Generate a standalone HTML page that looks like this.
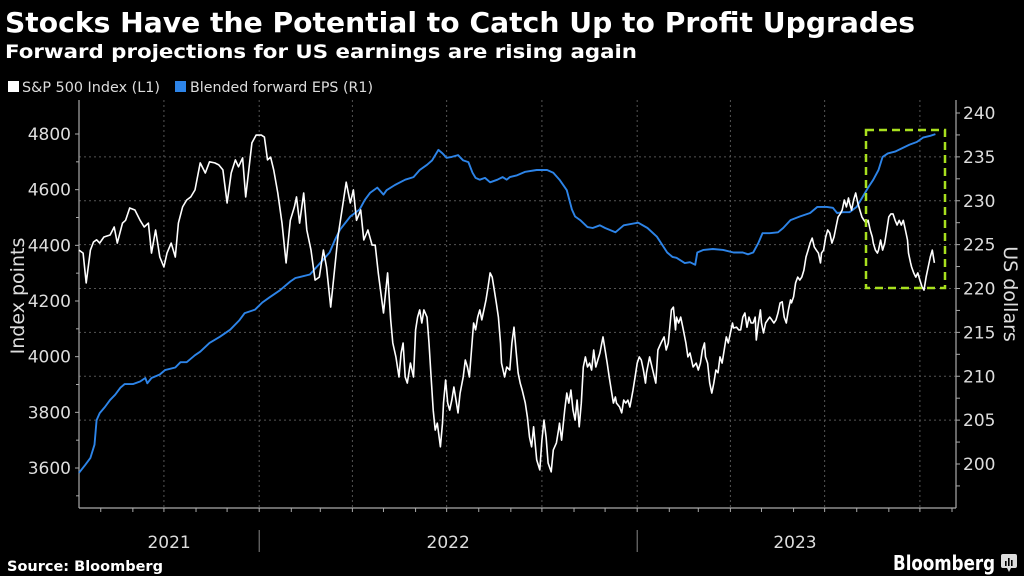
<!DOCTYPE html>
<html><head><meta charset="utf-8"><style>
html,body{margin:0;padding:0;background:#000;}
svg{display:block;}
text{font-family:"DejaVu Sans","Liberation Sans",sans-serif;}
</style></head><body>
<svg id="chart" width="1024" height="576" viewBox="0 0 1024 576">
<rect width="1024" height="576" fill="#000"/>
<text x="5" y="32" font-size="28" font-weight="bold" fill="#fff" textLength="910" lengthAdjust="spacingAndGlyphs">Stocks Have the Potential to Catch Up to Profit Upgrades</text>
<text x="5" y="58" font-size="19" font-weight="bold" fill="#fff" textLength="632" lengthAdjust="spacingAndGlyphs">Forward projections for US earnings are rising again</text>
<g>
<g><rect x="8" y="81" width="11" height="11" fill="#fff"/><text x="22" y="92" font-size="14.5" fill="#ddd" textLength="138" lengthAdjust="spacingAndGlyphs">S&amp;P 500 Index (L1)</text></g>
<g><rect x="175" y="81" width="11" height="11" fill="#2d84e8"/><text x="190" y="92" font-size="14.5" fill="#ddd" textLength="183" lengthAdjust="spacingAndGlyphs">Blended forward EPS (R1)</text></g>
</g>
<g id="grid"></g>
<g id="axes"></g>
<g id="series"></g>
<rect x="866" y="130" width="79" height="158" fill="none" stroke="#a8e01e" stroke-width="2.5" stroke-dasharray="8,5"/>
<text x="7" y="571" font-size="14.5" font-weight="bold" fill="#fff">Source: Bloomberg</text>
<g>
<text x="893" y="570" font-size="20" font-weight="bold" fill="#fff" textLength="102" lengthAdjust="spacingAndGlyphs">Bloomberg</text>
<rect x="1001" y="554" width="16" height="14" rx="2" fill="#ddd"/>
<path d="M1007 568 L1009 572 L1011 568 Z" fill="#ddd"/>
<rect x="1005" y="561" width="1.6" height="5" fill="#000"/><rect x="1008" y="558" width="1.6" height="8" fill="#000"/><rect x="1011" y="560" width="1.6" height="6" fill="#000"/>
</g>
</svg>
<script>
const spxDays=[0,4,7,11,14,17,20,24,30,34,37,42,45,49,54,59,63,67,70,74,78,82,85,89,93,96,100,104,108,112,117,122,126,131,135,139,143,147,151,154,158,161,167,171,176,179,182,185,188,192,196,200,204,208,210,213,217,220,224,228,232,236,239,243,246,250,254,258,262,265,268,272,275,279,283,286,
289,294,298,301,303,306,309,311,313,315,317,320,323,325,327,329,331,333,336,338,340,342,344,346,349,351,352,354,356,358,360,362,364,366,368,371,373,375,377,379,381,383,385,387,389,391,393,395,397,399,401,403,405,407,408,411,413,416,418,420,422,424,426,428,431,433,435,437,439,442,445,447,449,451,453,456,458,461,463,464,466,469,471,473,475,477,479,481,483,485,487,489,491,493,495,497,499,501,503,506,508,510,512,514,516,518,519,522,524,526,528,530,532,535,537,539,541,543,545,547,548,
551,554,557,559,562,565,567,569,572,574,576,577,579,581,583,586,588,590,593,596,598,600,602,604,605,607,609,611,613,615,617,619,621,623,625,627,629,631,632,635,637,639,641,643,645,647,649,651,653,654,656,658,659,661,663,665,667,669,671,673,675,677,679,681,683,685,687,688,690,692,694,696,698,700,702,704,706,708,710,712,714,716,717,719,721,723,725,727,729,731,733,735,737,739,741,743,744,746,748,750,752,754,756,758,760,762,764,766,767,769,771,772,774,776,778,780,782,784,786,788,790,792,794,796,798,800,801,803,804,806,808,810,812,814,816,818,820,822,824,826];
const spxValues=[4383,4372,4265,4383,4412,4420,4408,4430,4437,4466,4408,4480,4490,4534,4527,4490,4466,4480,4372,4455,4358,4322,4372,4408,4358,4480,4538,4563,4574,4599,4696,4660,4700,4696,4689,4671,4552,4660,4707,4682,4714,4574,4768,4796,4796,4789,4707,4717,4671,4588,4480,4337,4490,4538,4574,4480,4588,4455,4383,4275,4286,4383,4322,4178,4286,4430,4527,4627,4552,4599,4490,4527,4419,4455,4401,4401,
4300,4157,4301,4132,4049,3999,3927,4013,4049,3927,3905,3977,3927,4096,4142,4168,4121,4168,4142,4049,3927,3808,3736,3761,3676,3761,3833,3916,3833,3808,3844,3891,3844,3798,3869,3927,3988,3963,3927,4024,4121,4096,4142,4168,4132,4168,4204,4251,4301,4286,4239,4193,4142,4049,3977,3927,3963,3952,4049,4106,4024,3942,3905,3880,3833,3783,3711,3676,3748,3629,3593,3700,3772,3711,3618,3586,3665,3690,3736,3761,3700,3808,3869,3833,3880,3808,3772,3844,3748,3833,3963,3999,3963,3977,3952,4024,3963,3988,4013,4071,4024,3977,3927,3880,3833,3855,3833,3819,3798,3844,3833,3844,3819,3880,3927,3977,3999,3988,3952,3905,3942,
3999,3952,3905,4024,4049,4071,4024,4049,4168,4178,4096,4142,4121,4142,4106,4049,3999,4013,3963,3977,3952,3977,4024,4049,3999,3977,3905,3869,3905,3952,3942,3999,3977,4024,4071,4049,4085,4121,4103,4106,4096,4096,4142,4157,4106,4142,4121,4121,4142,4060,4121,4168,4121,4085,4121,4132,4142,4132,4121,4132,4157,4193,4197,4142,4121,4168,4204,4193,4215,4265,4286,4275,4286,4311,4358,4383,4408,4426,4394,4383,4372,4337,4372,4383,4430,4455,4444,4408,4430,4466,4502,4513,4527,4563,4538,4570,4552,4527,4563,4588,4552,4527,4502,4490,4480,4490,4455,4430,4408,4383,4372,4383,4419,4383,4408,4455,4502,4513,4513,4490,4473,4490,4473,4490,4455,4419,4372,4337,4322,4301,4286,4301,4275,4251,4239,4286,4322,4358,4383,4337];
const epsDays=[0,6,11,15,17,20,25,30,35,40,44,52,59,64,66,70,78,83,93,98,104,112,117,126,136,146,155,160,170,177,184,194,204,209,213,223,242,247,252,262,271,276,281,288,294,297,305,315,323,329,336,341,347,351,355,360,366,371,376,380,383,387,392,397,404,409,413,416,423,431,442,452,458,464,471,476,479,484,491,496,503,508,518,526,540,549,558,568,573,577,585,590,595,597,603,612,622,632,641,646,651,656,660,667,675,680,687,696,706,713,722,728,732,738,744,751,756,762,767,772,776,781,788,795,802,809,815,822,827];
const epsValues=[199.0,199.9,200.7,202.2,205.0,205.8,206.5,207.3,207.9,208.7,209.1,209.1,209.4,209.8,209.2,209.8,210.2,210.7,211.0,211.6,211.6,212.4,212.8,213.8,214.5,215.3,216.4,217.2,217.6,218.4,219.0,219.8,220.8,221.2,221.3,221.6,224.1,225.5,226.7,228.2,229.0,230.1,230.9,231.5,230.7,231.2,231.8,232.4,232.7,233.5,234.1,234.6,235.8,235.4,234.9,235.0,235.2,234.6,234.4,233.2,232.6,232.4,232.6,232.1,232.4,232.7,232.4,232.7,232.9,233.3,233.5,233.5,233.2,232.4,231.2,229.0,228.2,227.8,227.0,226.9,227.2,226.9,226.4,227.2,227.5,226.9,225.9,224.1,223.6,223.5,222.9,223.0,222.7,224.1,224.4,224.5,224.4,224.1,224.1,223.9,224.1,225.2,226.3,226.3,226.4,226.9,227.8,228.2,228.6,229.3,229.3,229.2,228.6,228.7,228.7,229.3,230.3,231.5,232.4,233.5,235.0,235.4,235.6,236.0,236.4,236.7,237.2,237.4,237.6];
const leftTicks=[3600,3800,4000,4200,4400,4600,4800];
const rightTicks=[200,205,210,215,220,225,230,235,240];
const yearLabels=["2021","2022","2023"];

const NS="http://www.w3.org/2000/svg";
const X0=79,X1=956,YB=508,YT=100;
const start=new Date(2021,6,11);
const pxPerDay=1.0356;
const xDay=d=>X0+d*pxPerDay;
const xDate=dt=>xDay((dt-start)/86400000);
const yL=v=>134+(4800-v)*(334/1200);
const yR=v=>113+(240-v)*(351/40);
function mk(tag,attrs,parent){const e=document.createElementNS(NS,tag);for(const k in attrs)e.setAttribute(k,attrs[k]);parent.appendChild(e);return e;}
const grid=document.getElementById('grid'),axes=document.getElementById('axes'),series=document.getElementById('series');

// horizontal gridlines at right-axis ticks
for(const v of rightTicks){if(v===200||v===240)continue;
 const l=mk('line',{x1:X0,x2:X1,y1:yR(v),y2:yR(v),stroke:'#555','stroke-width':1,'stroke-dasharray':'2,3'},grid);
 
 }
// quarterly vertical gridlines + monthly ticks
for(let m=7;m<=34;m++){
 const dt=new Date(2021,m,1);const x=xDate(dt);if(x<=X0+2||x>=X1)continue;
 if(m%3===0){const g=mk('line',{x1:x,x2:x,y1:YT,y2:YB,stroke:'#555','stroke-width':1,'stroke-dasharray':'2,3'},grid);
  
  }
 const t=mk('line',{x1:x,x2:x,y1:YB,y2:YB+4,stroke:'#aaa','stroke-width':1},axes);
 
 
}
// axis lines
const la=mk('line',{x1:X0,x2:X0,y1:YT,y2:YB,stroke:'#aaa','stroke-width':1.2},axes);


const ra=mk('line',{x1:X1,x2:X1,y1:YT,y2:YB,stroke:'#aaa','stroke-width':1.2},axes);


const ba=mk('line',{x1:X0,x2:X1,y1:YB,y2:YB,stroke:'#aaa','stroke-width':1.2},axes);


// left ticks
for(let v=3500;v<=4800;v+=100){const y=yL(v);if(y>YB||y<YT)continue;
 mk('line',{x1:X0-(v%200===0?4:3),x2:X0,y1:y,y2:y,stroke:'#aaa','stroke-width':1},axes);}
for(const v of leftTicks){const t=mk('text',{x:X0-8,y:yL(v)+6,'font-size':17,fill:'#ddd','text-anchor':'end'},axes);t.textContent=v;
 
 }
// right ticks
for(let v=197.5;v<=240;v+=2.5){const y=yR(v);if(y>YB||y<YT-15)continue;
 mk('line',{x1:X1,x2:X1+4,y1:y,y2:y,stroke:'#aaa','stroke-width':1},axes);}
for(const v of rightTicks){const t=mk('text',{x:X1+7,y:yR(v)+6,'font-size':17,fill:'#ddd'},axes);t.textContent=v;
 
 }
// axis titles
const lt=mk('text',{x:0,y:0,'font-size':19,fill:'#ddd','text-anchor':'middle',transform:'translate(24,296) rotate(-90)'},axes);lt.textContent='Index points';


const rt=mk('text',{x:0,y:0,'font-size':19,fill:'#ddd','text-anchor':'middle',transform:'translate(1004,294) rotate(90)'},axes);rt.textContent='US dollars';


// years
const yb=[xDate(new Date(2022,0,1)),xDate(new Date(2023,0,1))];
for(const x of yb){const s=mk('line',{x1:x,x2:x,y1:530,y2:552,stroke:'#888','stroke-width':1},axes);
 
 }
const ranges=[[X0,yb[0]],[yb[0],yb[1]],[yb[1],X1]];
yearLabels.forEach((lab,i)=>{const cx=i===2?795:(ranges[i][0]+ranges[i][1])/2;
 const t=mk('text',{x:cx,y:548,'font-size':17,fill:'#ddd','text-anchor':'middle'},axes);t.textContent=lab;
 
 });
// series
const epsPath=epsDays.map((d,i)=>(i?'L':'M')+xDay(d).toFixed(1)+' '+yR(epsValues[i]).toFixed(1)).join(' ');
const ep=mk('path',{d:epsPath,fill:'none',stroke:'#2d84e8','stroke-width':1.9,'stroke-linejoin':'round'},series);


const spxPath=spxDays.map((d,i)=>(i?'L':'M')+xDay(d).toFixed(1)+' '+yL(spxValues[i]).toFixed(1)).join(' ');
const sp=mk('path',{d:spxPath,fill:'none',stroke:'#fff','stroke-width':1.6,'stroke-linejoin':'round'},series);


</script>
</body></html>
